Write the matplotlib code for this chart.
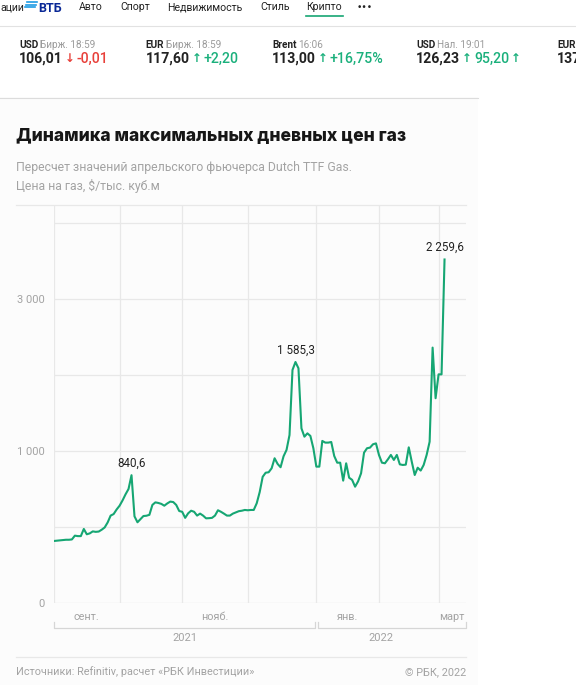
import numpy as np
import pandas as pd
from matplotlib import pyplot as plt
from matplotlib.lines import Line2D
from matplotlib.patches import Rectangle

plt.rcParams['font.family'] = ['Roboto', 'DejaVu Sans']

# --- data: daily max price, one value per trading day from 2021-09-01
prices = [408, 410, 412, 414, 416, 416, 418, 443, 440, 440,
          487, 452, 458, 471, 468, 470, 482, 497, 530, 575,
          585, 615, 640, 675, 715, 750, 840.6, 570, 531, 552,
          572, 574, 580, 645, 662, 658, 652, 640, 655, 667,
          664, 645, 605, 600, 560, 590, 607, 600, 575, 588,
          575, 557, 558, 560, 575, 610, 600, 588, 575, 575,
          588, 596, 604, 607, 612, 610, 612, 612, 656, 730,
          830, 857, 860, 886, 952, 915, 893, 965, 1007, 1105,
          1533, 1585.3, 1544, 1149, 1094, 1116, 1099, 1018, 897, 897,
          1066, 1055, 1055, 1059, 967, 923, 923, 805, 919, 824,
          810, 765, 800, 853, 989, 1018, 1022, 1044, 1050, 974,
          923, 919, 945, 974, 941, 974, 912, 908, 910, 1024,
          930, 842, 890, 871, 908, 974, 1061, 1680, 1347, 1504,
          1504, 2259.6]
peaks = [26, 81, 131]
peak_labels = ['840,6', '1 585,3', '2 259,6']

ytick_vals = [0, 500, 1000, 1500, 2000, 2500]
ytick_labels = ['0', '', '1 000', '', '3 000', '']

month_names = {9: 'сент.', 11: 'нояб.', 1: 'янв.', 3: 'март'}

dates = pd.bdate_range('2021-09-01', periods=len(prices))
idx = np.arange(len(prices))
month_starts = [i for i in idx if i == 0 or dates[i].month != dates[i - 1].month]
x_end = 138.2

W, H = 576, 685
GREEN = '#16a673'
GRID = '#e8e8e8'
GRAY = '#a3a3a3'


def fx(x):
    return x / W


def fy(y):
    return 1 - y / H


fig = plt.figure(figsize=(W / 100, H / 100), dpi=100)
fig.patch.set_facecolor('white')

# card background + separators
fig.add_artist(Rectangle((0, fy(H)), fx(478), fy(97) - fy(H), transform=fig.transFigure,
                         facecolor='#fcfcfc', edgecolor='none', zorder=-5))
fig.add_artist(Line2D([0, 1], [fy(25.5)] * 2, color='#e2e2e2', lw=0.8))
fig.add_artist(Line2D([0, fx(478)], [fy(97.5)] * 2, color='#dcdcdc', lw=0.8))
fig.add_artist(Line2D([fx(16), fx(466)], [fy(205)] * 2, color=GRID, lw=0.9))
fig.add_artist(Line2D([fx(16), fx(466)], [fy(657)] * 2, color=GRID, lw=0.9))

# --- top navigation
nav = [('ации', 0), ('Авто', 79), ('Спорт', 120), ('Недвижимость', 167),
       ('Стиль', 260), ('Крипто', 306)]
for t, x in nav:
    fig.text(fx(x), fy(7), t, fontsize=7.6, color='#222222', va='center', ha='left')
fig.text(fx(357), fy(7), '•••', fontsize=6.5, color='#222222', va='center', ha='left',
         family=['DejaVu Sans'])
fig.add_artist(Line2D([fx(306), fx(343)], [fy(15.5)] * 2, color=GREEN, lw=1.2))
# VTB logo
for k, (x0, x1) in enumerate([(27, 37), (26, 36), (25, 35)]):
    fig.add_artist(Line2D([fx(x0), fx(x1)], [fy(2 + k * 2.6)] * 2, color='#1e9be4', lw=1.2))
fig.text(fx(38), fy(8), 'ВТБ', fontsize=9, fontweight='bold', color='#0a2896',
         va='center', ha='left')

# --- ticker row
tickers = [
    (19, 'USD', 'Бирж. 18:59', '106,01', '↓', '-0,01', '', '#e8413b'),
    (145.5, 'EUR', 'Бирж. 18:59', '117,60', '↑', '+2,20', '', '#1bb07c'),
    (272, 'Brent', '16:06', '113,00', '↑', '+16,75%', '', '#1bb07c'),
    (416, 'USD', 'Нал. 19:01', '126,23', '↑', '95,20', '↑', '#1bb07c'),
    (557, 'EUR', '', '137', '', '', '', '#1bb07c'),
]
r = fig.canvas.get_renderer()
for x, cur, info, val, arr, chg, arr2, col in tickers:
    t1 = fig.text(fx(x), fy(44.5), cur, fontsize=7.2, fontweight='bold', color='#222222',
                  va='center', ha='left')
    bb = t1.get_window_extent(r)
    fig.text(fx(bb.x1 + 2), fy(44.5), info, fontsize=7.2, color='#9b9b9b',
             va='center', ha='left')
    t2 = fig.text(fx(x), fy(59), val, fontsize=10.2, fontweight='bold', color='#222222',
                  va='center', ha='left')
    xx = t2.get_window_extent(r).x1 + 2
    for piece, c, wgt in [(arr, col, 'bold'), (chg, col, 'medium'), (arr2, col, 'bold')]:
        if not piece:
            continue
        t = fig.text(fx(xx), fy(59), piece, fontsize=10.2 if piece not in '↑↓' else 8.5,
                     fontweight=wgt, color=col, va='center', ha='left',
                     family=['DejaVu Sans'] if piece in '↑↓' else None)
        xx = t.get_window_extent(r).x1 + 2

# --- title block
fig.text(fx(16), fy(137), 'Динамика максимальных дневных цен газ', fontsize=12.6,
         fontweight='heavy', color='#161616', va='center', ha='left', family=['Inter', 'DejaVu Sans'])
fig.text(fx(16), fy(167), 'Пересчет значений апрельского фьючерса Dutch TTF Gas.',
         fontsize=8.8, color=GRAY, va='center', ha='left')
fig.text(fx(16), fy(186), 'Цена на газ, $/тыс. куб.м', fontsize=8.8, color=GRAY,
         va='center', ha='left')

# --- chart
ax = fig.add_axes([fx(54), fy(603), fx(466) - fx(54), fy(205) - fy(603)])
ax.set_facecolor('none')
ax.plot(idx, prices, color=GREEN, lw=1.5, solid_joinstyle='round', zorder=3)
ax.set_xlim(0, x_end)
ax.set_ylim(0, 2618)

for v in ytick_vals[1:]:
    ax.axhline(v, color=GRID, lw=0.9, zorder=1)
for m in month_starts:
    ax.axvline(m, color=GRID, lw=0.9, zorder=1)
ax.axhline(0, color=GRID, lw=1.0, zorder=1)

ax.set_yticks(ytick_vals)
ax.set_yticklabels(ytick_labels)
ax.tick_params(axis='y', length=0, pad=7, labelsize=8, labelcolor=GRAY)
ax.set_xticks([])
for s in ax.spines.values():
    s.set_visible(False)

for i, lab in zip(peaks, peak_labels):
    ax.annotate(lab, (idx[i], prices[i]), xytext=(0, 4), textcoords='offset points',
                ha='center', va='bottom', fontsize=8.4, color='#222222')

# month labels centred in their month
bounds = month_starts + [x_end]
for a, b in zip(bounds[:-1], bounds[1:]):
    mname = month_names.get(dates[a].month)
    if mname:
        ax.text((a + b) / 2, -0.034, mname, transform=ax.get_xaxis_transform(),
                ha='center', va='center', fontsize=7.8, color=GRAY)

# year brackets
jan = month_starts[4]
for a, b, yr, cx in [(0, jan - 0.5, '2021', (0 + jan) / 2), (jan + 0.5, x_end, '2022', (jan + idx[-1]) / 2)]:
    ax.plot([a, a, b, b], [-0.048, -0.063, -0.063, -0.048], transform=ax.get_xaxis_transform(),
            color='#d6d6d6', lw=0.9, clip_on=False)
    ax.text(cx, -0.088, yr, transform=ax.get_xaxis_transform(), ha='center', va='center',
            fontsize=8, color=GRAY)

# --- footer
fig.text(fx(16), fy(672), 'Источники: Refinitiv, расчет «РБК Инвестиции»', fontsize=7.8,
         color=GRAY, va='center', ha='left')
fig.text(fx(466), fy(672), '© РБК, 2022', fontsize=7.8, color=GRAY, va='center', ha='right')

fig.savefig('out.png', dpi=100)
